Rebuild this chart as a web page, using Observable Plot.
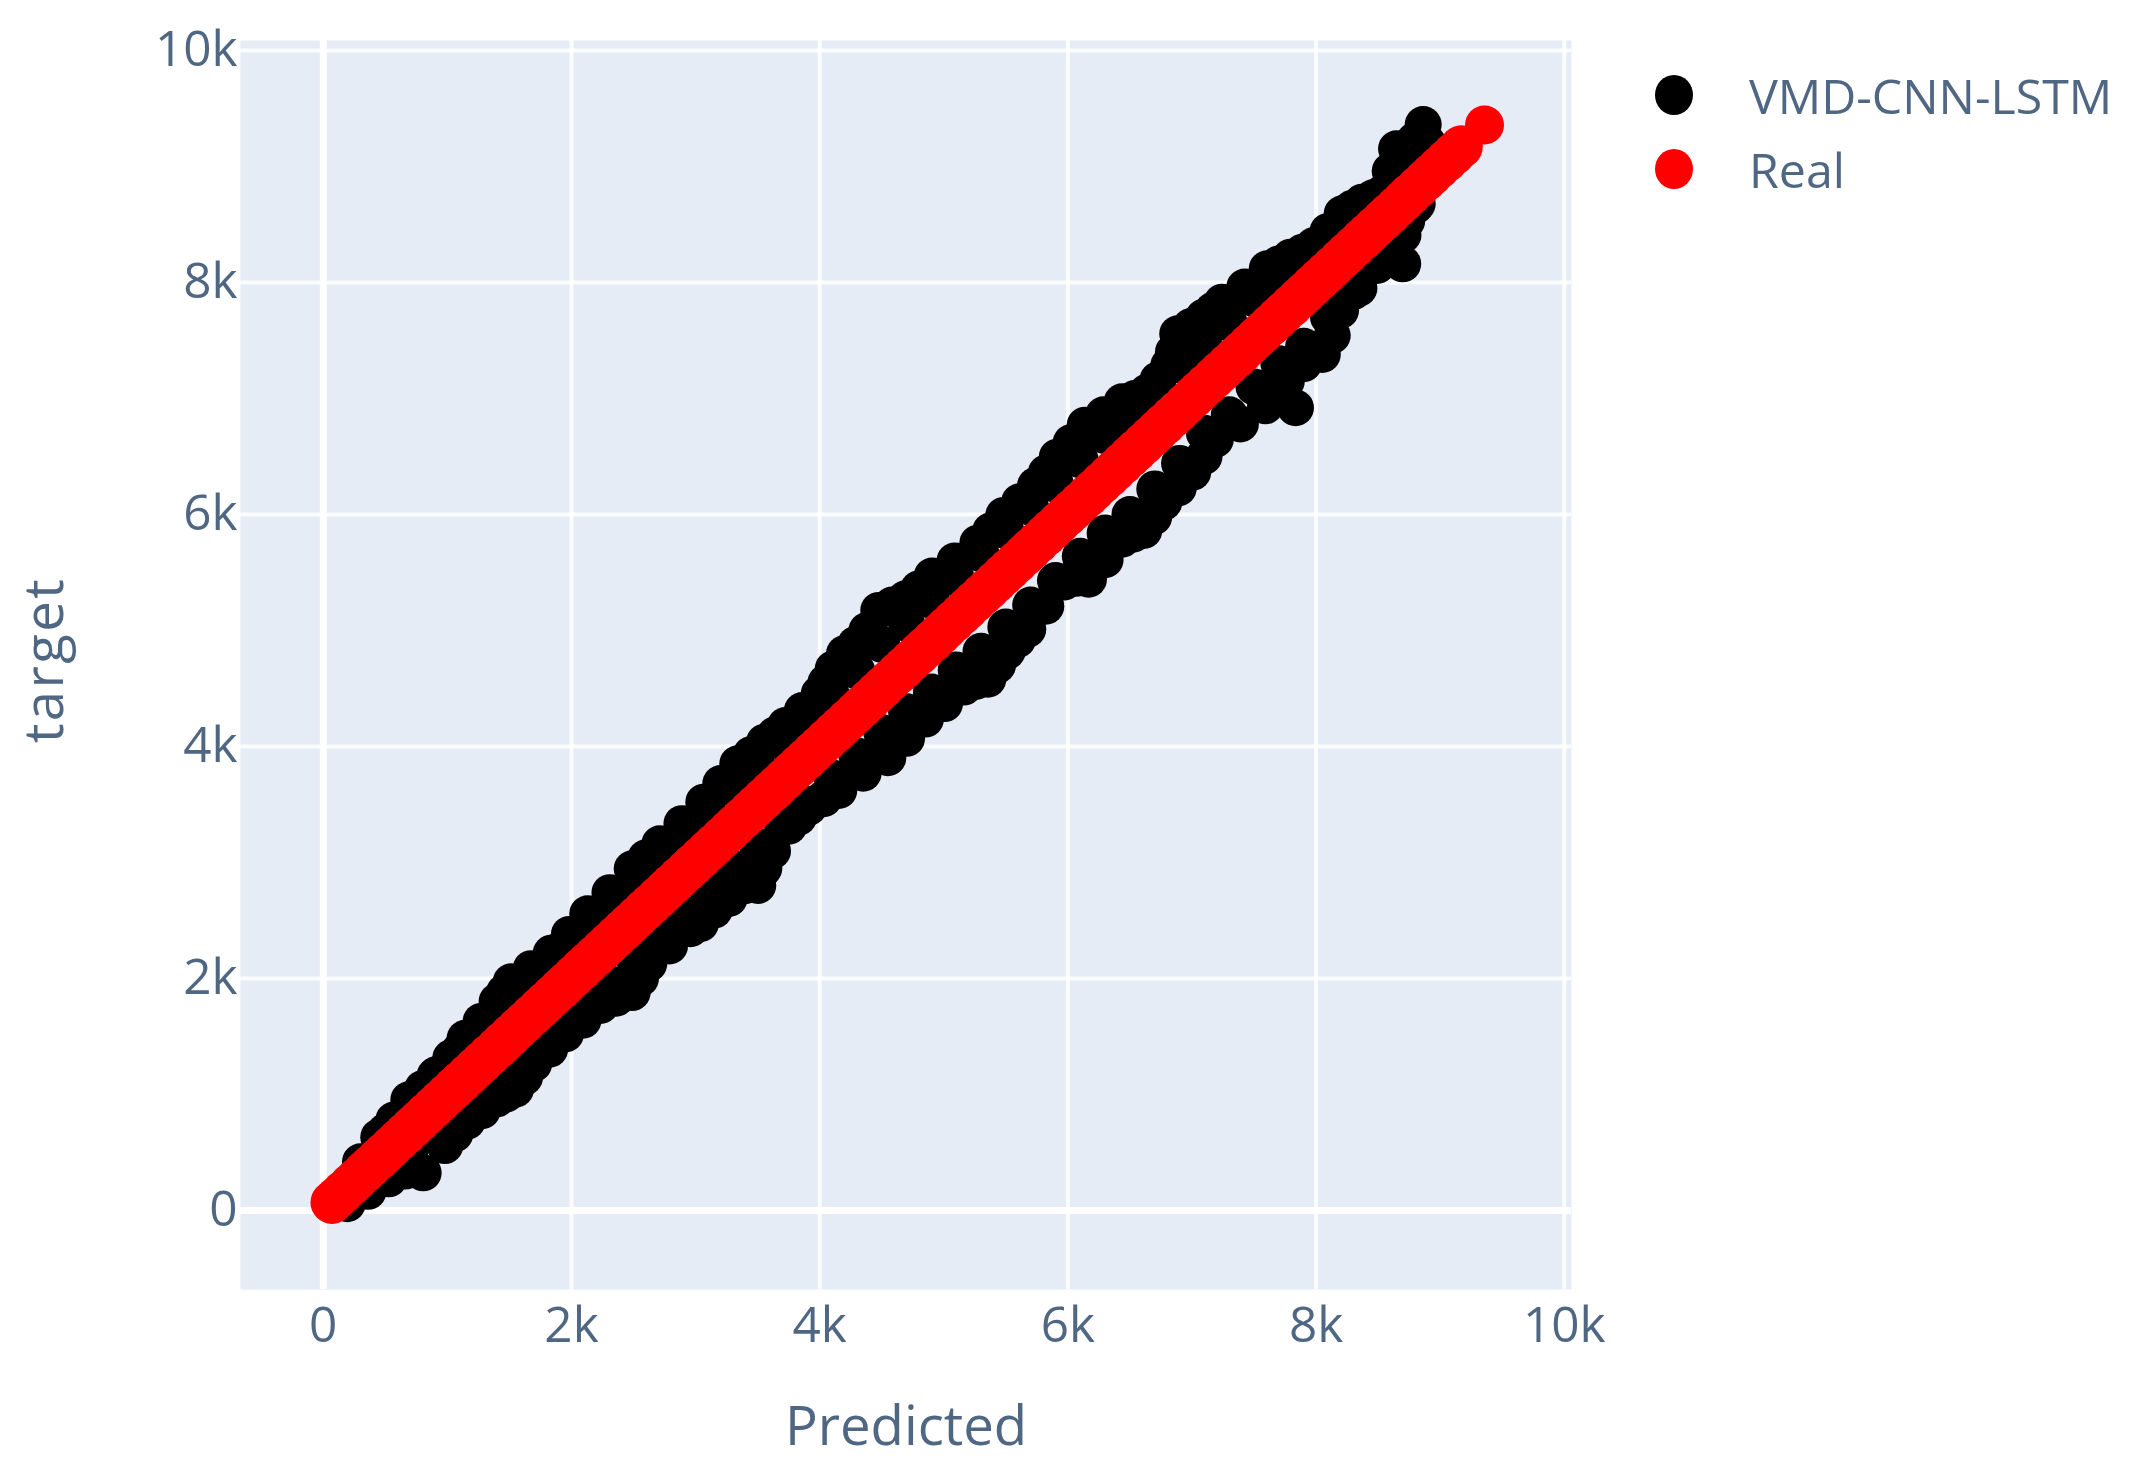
<!DOCTYPE html>
<html>
<head>
<meta charset="utf-8">
<script src="https://cdn.jsdelivr.net/npm/d3@7"></script>
<script src="https://cdn.jsdelivr.net/npm/@observablehq/plot@0.6"></script>
<style>
html,body{margin:0;padding:0;background:#fff;}
#wrap{position:relative;width:2139px;height:1468px;overflow:hidden;font-family:"Open Sans",sans-serif;color:#506784;}
#wrap svg{display:block;}
.sw{position:absolute;left:1655px;width:38px;height:40px;border-radius:50%;}
.lb{position:absolute;left:1749px;font-size:48.3px;line-height:60px;white-space:nowrap;}
.ylab text{letter-spacing:2.4px;}
</style>
</head>
<body>
<div id="wrap">
  <div class="sw" style="top:75px;background:#000"></div>
  <div class="lb" style="top:65px">VMD-CNN-LSTM</div>
  <div class="sw" style="top:149px;background:#f00"></div>
  <div class="lb" style="top:139px">Real</div>
</div>
<script>
const seriesNames = ["VMD-CNN-LSTM", "Real"];
const xTitle = "Predicted";
const yTitle = "target";
const tickValues = [0, 2000, 4000, 6000, 8000, 10000];
const tickLabels = ["0", "2k", "4k", "6k", "8k", "10k"];

// Outer bumps above the diagonal
const upperPredicted = [447,689,912,1143,1401,1514,1836,2131,2489,2712,3066,3340,3555,3724,3996,4109,4476,4691,4906,5274,5483,5739,5914,6139,6437,6639,6813,6885,7095,7243,7606,7794,7982,8210,8371,8546,8648,8863];
const upperTarget    = [632,954,1172,1485,1804,1972,2218,2558,2946,3161,3520,3851,4037,4181,4454,4670,5173,5273,5470,5753,5992,6250,6494,6770,6972,7055,7285,7558,7701,7830,8118,8218,8319,8592,8692,8779,9153,9362];
// Outer bumps below the diagonal
const lowerPredicted = [193,528,805,1160,1401,1549,1696,1952,2234,2489,2623,2959,3039,3501,3751,3912,4154,4549,4852,5161,5355,5511,5677,5967,6166,6437,6612,6773,7006,7188,7592,7834,8130,8197,8492,8698,8640,8815];
const lowerTarget    = [58,273,325,770,963,1046,1265,1523,1767,1879,2127,2429,2472,2802,3313,3477,3621,3903,4236,4512,4580,4822,5012,5417,5442,5787,5862,6106,6365,6647,6937,6920,7543,7759,8147,8161,8391,8679];
// Points in the notches between the upper bumps
const notchUpperPredicted = [568,800,1027,1272,1460,1675,1983,2310,2600,2890,3203,3447,3640,3860,4050,4200,4290,4380,4583,4798,5090,5378,5611,5826,6026,6288,6538,6726,6850,6990,7169,7425,7700,7888,8096,8290,8458,8597,8790,8900];
const notchUpperTarget    = [780,1050,1315,1630,1880,2085,2380,2740,3040,3335,3680,3930,4100,4310,4550,4800,4880,5000,5220,5360,5600,5860,6110,6360,6620,6860,7000,7160,7400,7620,7760,7960,8160,8260,8440,8640,8730,8960,9220,9200];
// Points in the notches between the lower bumps
const notchLowerPredicted = [360,660,980,1060,1280,1475,1622,1824,2093,2360,2556,2790,3150,3270,3400,3550,3620,3830,4033,4350,4700,5006,5258,5433,5594,5822,6066,6300,6525,6692,6890,7097,7300,7390,7710,7760,7900,8050,8345,8595,8730];
const notchLowerTarget    = [165,340,560,660,860,1005,1150,1390,1640,1830,2000,2280,2590,2690,2800,2950,3100,3390,3550,3770,4070,4370,4560,4700,4920,5210,5450,5610,5830,5980,6230,6500,6800,6780,7020,7150,7300,7380,7950,8230,8530];
// Points between the bumps and the diagonal
const innerUpperPredicted = [300,500,700,900,1100,1300,1500,1700,1900,2100,2300,2500,2700,2900,3100,3300,3500,3700,3900,4100,4300,4500,4700,4900,5100,5300,5500,5700,5900,6100,6300,6500,6700,6900,7100,7300,7500,7700,7900,8100,8300,8500,8700,8800];
const innerUpperTarget    = [420,680,930,1160,1380,1600,1820,2030,2240,2440,2650,2860,3040,3250,3440,3640,3830,4040,4230,4430,4650,4880,5060,5260,5450,5660,5860,6060,6260,6470,6680,6850,7040,7290,7450,7650,7860,8030,8220,8400,8590,8740,8930,9140];
const innerLowerPredicted = [300,500,700,900,1100,1300,1500,1700,1900,2100,2300,2500,2700,2900,3100,3300,3500,3700,3900,4100,4300,4500,4700,4900,5100,5300,5500,5700,5900,6100,6300,6500,6700,6900,7100,7300,7500,7700,7900,8100,8300,8500,8700,8800];
const innerLowerTarget    = [170,360,520,710,880,1060,1220,1440,1620,1820,1960,2180,2380,2560,2760,2950,3140,3320,3500,3730,3920,4120,4300,4470,4660,4820,5030,5220,5430,5640,5840,6000,6220,6440,6700,6860,7100,7300,7450,7700,7920,8180,8410,8660];

// Real series: x and y are the same value
const realValues = [70,110,160,220,270,330,380,440,490,550,610,660,720,770,830,890,940,1000,1060,1110,1170,1230,1280,1340,1400,1450,1510,1570,1620,1680,1740,1790,1850,1910,1960,2020,2080,2130,2190,2250,2300,2360,2420,2470,2530,2590,2640,2700,2760,2810,2870,2930,2980,3040,3100,3150,3210,3270,3320,3380,3440,3490,3550,3610,3660,3720,3780,3830,3890,3950,4000,4060,4120,4170,4230,4290,4340,4400,4460,4510,4570,4630,4680,4740,4800,4850,4910,4970,5020,5080,5140,5190,5250,5310,5360,5420,5480,5530,5590,5650,5700,5760,5820,5870,5930,5990,6040,6100,6160,6210,6270,6330,6380,6440,6500,6550,6610,6670,6720,6780,6840,6890,6950,7010,7060,7120,7180,7230,7290,7350,7400,7460,7520,7570,7630,7690,7740,7800,7860,7910,7970,8030,8080,8140,8200,8250,8310,8370,8420,8480,8540,8590,8650,8710,8760,8820,8880,8930,8990,9050,9110,9170];
const realLast = [9357];

const blackX = [...innerUpperPredicted, ...innerLowerPredicted, ...notchUpperPredicted, ...notchLowerPredicted, ...upperPredicted, ...lowerPredicted];
const blackY = [...innerUpperTarget, ...innerLowerTarget, ...notchUpperTarget, ...notchLowerTarget, ...upperTarget, ...lowerTarget];

const chart = Plot.plot({
  width: 2139,
  height: 1468,
  marginLeft: 240,
  marginRight: 568,
  marginTop: 40,
  marginBottom: 179,
  style: {background: "transparent", fontFamily: '"Open Sans", sans-serif', color: "#506784", overflow: "visible"},
  x: {domain: [-667, 10058], label: null},
  y: {domain: [-681, 10086], label: null},
  marks: [
    Plot.frame({fill: "#E5ECF6", stroke: null}),
    Plot.ruleX(tickValues.filter(d => d !== 0), {stroke: "#fff", strokeOpacity: 0.85, strokeWidth: 4}),
    Plot.ruleY(tickValues.filter(d => d !== 0), {stroke: "#fff", strokeOpacity: 0.85, strokeWidth: 4}),
    Plot.ruleX([0], {stroke: "#fff", strokeWidth: 7}),
    Plot.ruleY([0], {stroke: "#fff", strokeWidth: 7}),
    Plot.dot(blackX, {x: (d) => d, y: (d, i) => blackY[i], r: 18.5, fill: "#000"}),
    Plot.dot(realValues, {x: (d) => d, y: (d) => d, r: 21.5, fill: "#f00"}),
    Plot.dot(realLast, {x: (d) => d, y: (d) => d, r: 19.5, fill: "#f00"}),
    Plot.axisX({ticks: tickValues, tickFormat: (d) => tickLabels[tickValues.indexOf(d)], tickSize: 0, tickPadding: 17, fontSize: 49.5, fill: "#506784", label: null}),
    Plot.axisY({ticks: tickValues, tickFormat: (d) => tickLabels[tickValues.indexOf(d)], tickSize: 0, tickPadding: 3, fontSize: 49.5, fill: "#506784", label: null}),
    Plot.text([xTitle], {frameAnchor: "bottom", dy: 155, fontSize: 54.5, fill: "#506784"}),
    Plot.text([yTitle], {frameAnchor: "left", textAnchor: "middle", dx: -195, dy: -5, rotate: -90, fontSize: 54.5, fill: "#506784", className: "ylab"})
  ]
});
document.getElementById("wrap").prepend(chart);
</script>
</body>
</html>
